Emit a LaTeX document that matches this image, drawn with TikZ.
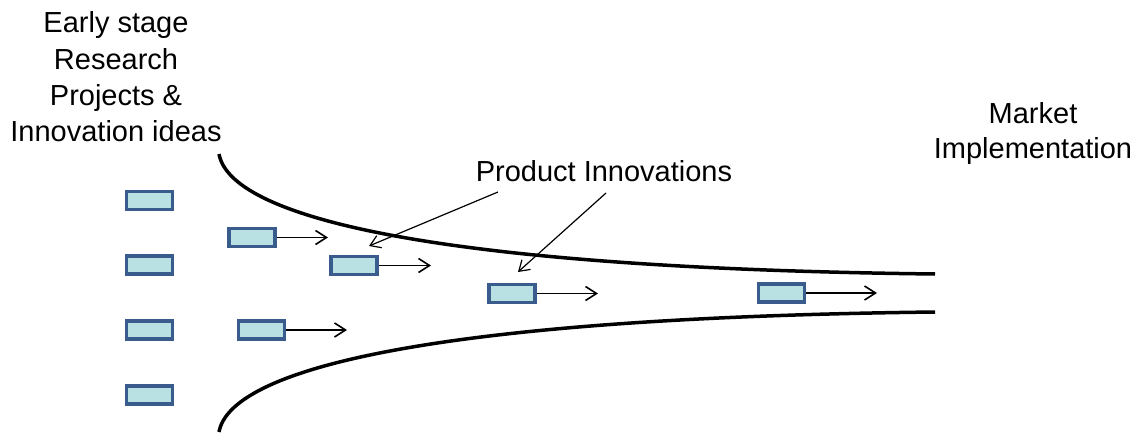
\documentclass[tikz,border=0pt]{standalone}
\usepackage{fontspec}
\setmainfont{Liberation Sans}
\usetikzlibrary{arrows.meta}
\definecolor{boxfill}{RGB}{185,224,227}
\definecolor{boxedge}{RGB}{58,92,140}
\tikzset{
  idea/.style={draw=boxedge, fill=boxfill, line width=3.2pt, inner sep=0pt,
    minimum width=46pt, minimum height=18pt},
  flow/.style={line width=1.6pt, -{Straight Barb[length=11pt,width=14pt,line width=1.6pt]}},
  pointer/.style={line width=1.2pt, -{Straight Barb[length=10pt,width=13pt,line width=1.2pt]}},
  funnel/.style={line width=3.5pt},
  lbl/.style={inner sep=0pt, anchor=base, font=\fontsize{29}{36}\selectfont}
}
\begin{document}
\begin{tikzpicture}[x=1pt,y=-1pt]
\useasboundingbox (0,0) rectangle (1145,433);

% labels
\node[lbl] (t1) at (116,32.7) {Early stage};
\node[lbl] (t2) at (116,69.2) {Research};
\node[lbl] (t3) at (116,105.6) {Projects \&};
\node[lbl] (t4) at (116,142) {Innovation ideas};
\node[lbl] (pi) at (604,181) {Product Innovations};
\node[lbl] (m1) at (1033,124) {Market};
\node[lbl] (m2) at (1033,158.5) {Implementation};

% funnel walls
\draw[funnel] (219,154) .. controls (230,215) and (420,268) .. (935,274);
\draw[funnel] (935,312) .. controls (420,318) and (230,371) .. (219,432);

% idea boxes, first column
\node[idea] (a1) at (149.5,200.5) {};
\node[idea] (a2) at (149.5,265) {};
\node[idea] (a3) at (149.5,330) {};
\node[idea] (a4) at (149.5,395) {};

% boxes moving through the funnel
\node[idea] (b1) at (252,237.5) {};
\node[idea] (b2) at (261.5,330) {};
\node[idea] (c1) at (354,265.5) {};
\node[idea] (d1) at (512,293.5) {};
\node[idea] (e1) at (781.5,293) {};

\coordinate (b1t) at (328,237.5);
\coordinate (b2t) at (347,330);
\coordinate (c1t) at (431,265.5);
\coordinate (d1t) at (598,293.5);
\coordinate (e1t) at (877,293);

\draw[flow] (b1.east) -- (b1t);
\draw[flow] (b2.east) -- (b2t);
\draw[flow] (c1.east) -- (c1t);
\draw[flow] (d1.east) -- (d1t);
\draw[flow] (e1.east) -- (e1t);

% pointers from the label
\coordinate (p1s) at (498,192);
\coordinate (p1e) at (369,246);
\coordinate (p2s) at (606,193);
\coordinate (p2e) at (518,272);
\draw[pointer] (p1s) -- (p1e);
\draw[pointer] (p2s) -- (p2e);
\end{tikzpicture}
\end{document}
